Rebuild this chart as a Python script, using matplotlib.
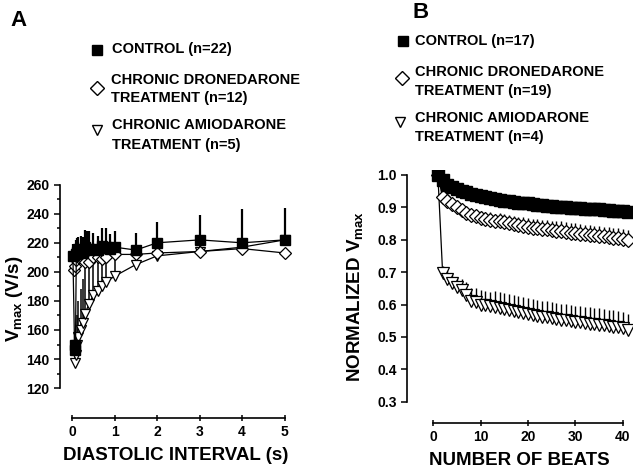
import numpy as np
import matplotlib
matplotlib.use('Agg')
import matplotlib.pyplot as plt
from matplotlib.lines import Line2D
from matplotlib.ticker import FixedLocator

plt.rcParams['font.family'] = ['Liberation Sans', 'DejaVu Sans']
plt.rcParams['font.weight'] = 'bold'
plt.rcParams['mathtext.fontset'] = 'custom'
plt.rcParams['mathtext.rm'] = 'Liberation Sans'
plt.rcParams['mathtext.bf'] = 'Liberation Sans:bold'

# ---- panel A: Vmax vs diastolic interval ----
di_ctrl = [0.02, 0.06, 0.08, 0.1, 0.12, 0.15, 0.2, 0.25, 0.3, 0.35, 0.4, 0.5, 0.6, 0.7, 0.8, 0.9, 1.0, 1.5, 2, 3, 4, 5]
v_ctrl = [211, 146, 150, 212, 214, 216, 215, 213, 217, 215, 216, 216, 215, 218, 217, 216, 217, 215, 220, 222, 220, 222]
e_ctrl = [8, 6, 8, 10, 9, 8, 10, 11, 12, 13, 12, 11, 10, 12, 13, 10, 11, 12, 14, 17, 23, 22]

di_dron = [0.05, 0.07, 0.1, 0.15, 0.2, 0.3, 0.4, 0.5, 0.6, 0.7, 0.8, 1.0, 1.5, 2, 3, 4, 5]
v_dron = [201, 204, 208, 210, 211, 207, 207, 210, 210, 209, 210, 212, 212, 213, 214, 216, 213]
e_dron = [5, 6, 8, 8, 9, 10, 12, 10, 9, 10, 8, 6, 5, 5, 4, 4, 3]

di_amio = [0.08, 0.1, 0.12, 0.15, 0.2, 0.25, 0.3, 0.4, 0.5, 0.6, 0.7, 0.8, 1.0, 1.5, 2, 3, 4, 5]
v_amio = [137, 143, 150, 155, 160, 165, 171, 178, 184, 187, 190, 193, 197, 205, 211, 214, 217, 222]
e_amio = [10, 14, 20, 25, 28, 30, 32, 34, 30, 26, 24, 20, 16, 8, 5, 4, 3, 3]

# ---- panel B: normalized Vmax vs beat number ----
beats = list(range(1, 42))
n_ctrl = [1.0, 0.985, 0.97, 0.962, 0.955, 0.95, 0.946, 0.94, 0.937, 0.934, 0.93, 0.928, 0.926, 0.923, 0.92,
          0.918, 0.917, 0.914, 0.913, 0.912, 0.91, 0.908, 0.907, 0.905, 0.904, 0.902, 0.9, 0.9, 0.899, 0.897,
          0.897, 0.895, 0.894, 0.893, 0.893, 0.891, 0.89, 0.889, 0.888, 0.887, 0.886]
n_dron = [1.0, 0.93, 0.92, 0.91, 0.9, 0.89, 0.882, 0.877, 0.872, 0.868, 0.865, 0.862, 0.858, 0.856, 0.855,
          0.852, 0.848, 0.845, 0.842, 0.839, 0.836, 0.835, 0.833, 0.832, 0.83, 0.828, 0.826, 0.824, 0.822, 0.82,
          0.818, 0.816, 0.814, 0.813, 0.811, 0.81, 0.808, 0.806, 0.805, 0.803, 0.8]
e_n_dron = [0.0, 0.01, 0.01, 0.012, 0.012, 0.015, 0.015, 0.018, 0.018, 0.02, 0.02, 0.022, 0.022, 0.025, 0.025,
            0.025, 0.026, 0.026, 0.027, 0.027, 0.028, 0.028, 0.028, 0.029, 0.029, 0.03, 0.03, 0.03, 0.03, 0.03,
            0.03, 0.03, 0.03, 0.03, 0.03, 0.03, 0.03, 0.03, 0.03, 0.03, 0.03]
n_amio = [1.0, 0.698, 0.68, 0.667, 0.655, 0.645, 0.628, 0.612, 0.607, 0.6, 0.598, 0.594, 0.592, 0.588, 0.585,
          0.582, 0.58, 0.576, 0.574, 0.57, 0.567, 0.565, 0.562, 0.56, 0.557, 0.555, 0.553, 0.551, 0.549, 0.546,
          0.545, 0.543, 0.541, 0.54, 0.538, 0.536, 0.534, 0.532, 0.53, 0.527, 0.522]
e_n_amio = [0.0, 0.02, 0.025, 0.03, 0.03, 0.035, 0.04, 0.04, 0.045, 0.045, 0.045, 0.045, 0.05, 0.05, 0.05,
            0.05, 0.05, 0.05, 0.05, 0.05, 0.05, 0.05, 0.05, 0.05, 0.05, 0.05, 0.05, 0.05, 0.05, 0.05,
            0.05, 0.05, 0.05, 0.05, 0.05, 0.05, 0.05, 0.05, 0.05, 0.05, 0.05]

fig = plt.figure(figsize=(6.4, 4.72), dpi=100)
axA = fig.add_axes([0.094, 0.114, 0.362, 0.504])
axB = fig.add_axes([0.636, 0.104, 0.352, 0.536])


def errs(vals):
    return [np.zeros(len(vals)), vals]


def style(ax):
    for s in ['top', 'right']:
        ax.spines[s].set_visible(False)
    for s in ['left', 'bottom']:
        ax.spines[s].set_linewidth(1.2)
    ax.tick_params(axis='both', which='both', direction='out', width=1.1, labelsize=10)
    ax.tick_params(axis='both', which='major', length=4)
    ax.tick_params(axis='y', which='minor', length=2.5)
    ax.tick_params(axis='x', direction='inout', length=4, pad=3)
    for lab in ax.get_xticklabels() + ax.get_yticklabels():
        lab.set_fontweight('bold')


# panel A
ms = 7
axA.errorbar(di_amio, v_amio, yerr=errs(e_amio), color='black', lw=0.9, elinewidth=1.1, capsize=0,
             marker='v', ms=ms, mfc='white', mec='black', mew=0.9, zorder=2)
axA.errorbar(di_dron, v_dron, yerr=errs(e_dron), color='black', lw=0.9, elinewidth=1.1, capsize=0,
             marker='D', ms=ms - 1, mfc='white', mec='black', mew=0.9, zorder=3)
axA.errorbar(di_ctrl, v_ctrl, yerr=errs(e_ctrl), color='black', lw=0.9, elinewidth=1.6, capsize=0,
             marker='s', ms=ms, mfc='black', mec='black', zorder=4)
axA.set_xlim(-0.28, 5.17)
axA.set_ylim(99.3, 263)
axA.spines['left'].set_bounds(120, 260)
axA.spines['bottom'].set_bounds(0, 5)
axA.set_yticks(range(120, 261, 20))
axA.yaxis.set_minor_locator(FixedLocator(range(130, 260, 20)))
axA.set_xticks(range(0, 6))
style(axA)
axA.set_xlabel('DIASTOLIC INTERVAL (s)', fontsize=13.5, fontweight='bold', labelpad=6)
axA.set_ylabel(r'V$_{\rm max}$ (V/s)', fontsize=13.5, fontweight='bold', labelpad=1)

# panel B
msB = 9
axB.errorbar(beats, n_amio, yerr=errs(e_n_amio), color='black', lw=0.9, elinewidth=1.0, capsize=0,
             marker='v', ms=msB, mfc='white', mec='black', mew=0.9, zorder=2)
axB.errorbar(beats, n_dron, yerr=errs(e_n_dron), color='black', lw=0.9, elinewidth=1.0, capsize=0,
             marker='D', ms=msB - 2, mfc='white', mec='black', mew=0.9, zorder=3)
axB.plot(beats, n_ctrl, color='black', lw=0.9, marker='s', ms=msB, mfc='black', mec='black', zorder=4)
axB.set_xlim(-5.5, 42)
axB.set_ylim(0.235, 1.015)
axB.spines['left'].set_bounds(0.3, 1.0)
axB.spines['bottom'].set_bounds(0, 40)
axB.set_yticks(np.arange(0.3, 1.01, 0.1))
axB.set_yticklabels(['0.3', '0.4', '0.5', '0.6', '0.7', '0.8', '0.9', '1.0'])
axB.set_xticks(range(0, 41, 10))
style(axB)
axB.set_xlabel('NUMBER OF BEATS', fontsize=13.5, fontweight='bold', labelpad=6)
axB.set_ylabel(r'NORMALIZED V$_{\rm max}$', fontsize=13.5, fontweight='bold', labelpad=8)

# panel letters
fig.text(10 / 640, 1 - 20 / 472, 'A', fontsize=16, fontweight='bold', ha='left', va='center')
fig.text(413 / 640, 1 - 13 / 472, 'B', fontsize=16, fontweight='bold', ha='left', va='center')


# legends
def legend_entry(x, y, marker, fill, size, lines, tx, ty0, dy):
    fig.add_artist(Line2D([x / 640], [1 - y / 472], transform=fig.transFigure, marker=marker, ms=size,
                          mfc=fill, mec='black', mew=1.0, ls='none'))
    for i, t in enumerate(lines):
        fig.text(tx / 640, 1 - (ty0 + i * dy) / 472, t, fontsize=10.5, fontweight='bold',
                 ha='left', va='center')


legend_entry(97, 50, 's', 'black', 7, ['CONTROL (n=22)'], 112, 49, 0)
legend_entry(97, 88, 'D', 'white', 7, ['CHRONIC DRONEDARONE', 'TREATMENT (n=12)'], 111, 80, 18)
legend_entry(97, 130, 'v', 'white', 7, ['CHRONIC AMIODARONE', 'TREATMENT (n=5)'], 112, 125, 20)

legend_entry(403, 41, 's', 'black', 7, ['CONTROL (n=17)'], 415, 41, 0)
legend_entry(402, 78, 'D', 'white', 7, ['CHRONIC DRONEDARONE', 'TREATMENT (n=19)'], 415, 72, 19)
legend_entry(400, 122, 'v', 'white', 7, ['CHRONIC AMIODARONE', 'TREATMENT (n=4)'], 415, 118, 19)

fig.savefig('out.png', dpi=100)
